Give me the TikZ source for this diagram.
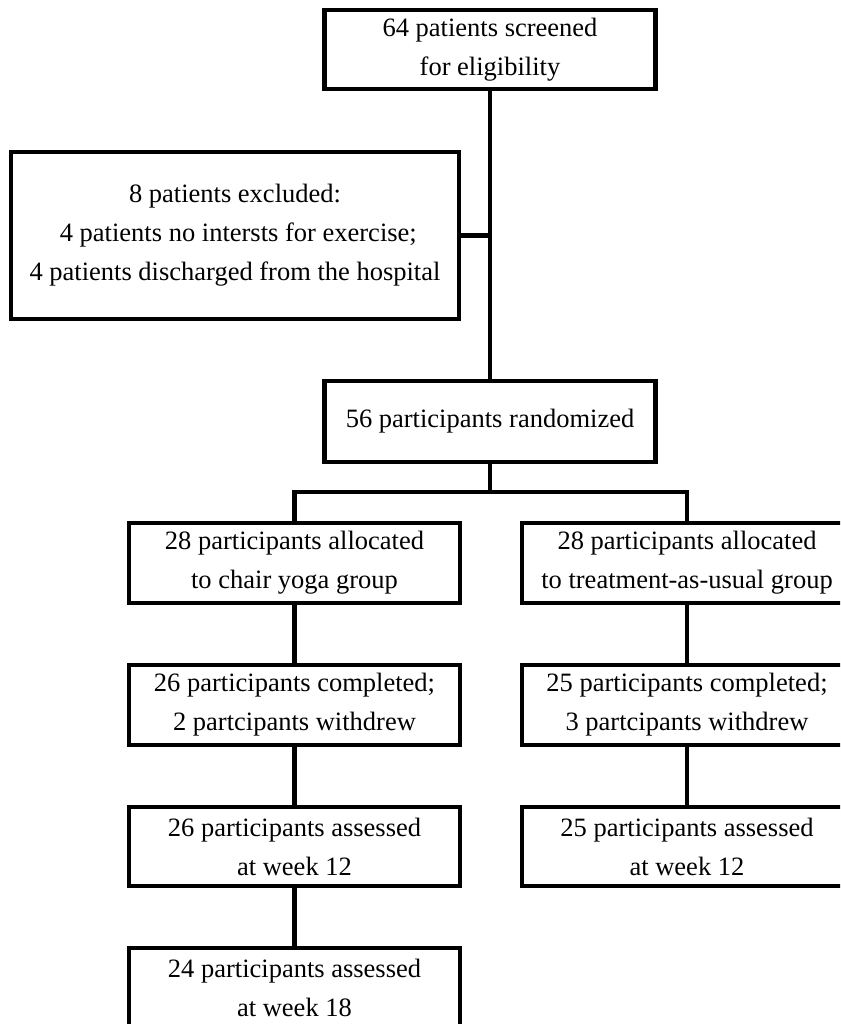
\documentclass[tikz,border=0pt]{standalone}
\usepackage{fontspec}
\setmainfont{Liberation Serif}
\begin{document}
\begin{tikzpicture}[x=1pt,y=-1pt,
  box/.style={draw=black,line width=4.5pt,fill=white,inner sep=0pt,align=center,
    minimum width=331pt,minimum height=80pt,
    font=\fontsize{26.5pt}{39pt}\selectfont},
  link/.style={draw=black,line width=4.5pt}]
\useasboundingbox (0,0) rectangle (840,1024);
\clip (0,0) rectangle (840,1024);
% nodes
\node[box,minimum height=79pt] (top) at (490,49.5) {64 patients screened\\for eligibility};
\node[box,minimum width=448pt,minimum height=167pt] (excl) at (235,235.5)
  {8 patients excluded:\\\ 4 patients no intersts for exercise;\\4 patients discharged from the hospital};
\node[box,minimum height=81pt] (rand) at (490,421.5) {56 participants randomized};
\node[box] (L1) at (294.5,563) {28 participants allocated\\to chair yoga group};
\node[box] (L2) at (294.5,705) {26 participants completed;\\2 partcipants withdrew};
\node[box,minimum height=79pt] (L3) at (294.5,846.5) {26 participants assessed\\at week 12};
\node[box] (L4) at (294.5,988) {24 participants assessed\\at week 18};
\node[box,minimum width=330pt] (R1) at (687,563) {28 participants allocated\\to treatment-as-usual group};
\node[box,minimum width=330pt] (R2) at (687,705) {25 participants completed;\\3 partcipants withdrew};
\node[box,minimum width=330pt,minimum height=79pt] (R3) at (687,846.5) {25 participants assessed\\at week 12};
% connectors
\coordinate (split) at (490,492);
\draw[link] (top.south) -- (rand.north);
\draw[link] (excl.east) -- (excl.east -| top.south);
\draw[link] (rand.south) -- (split);
\draw[link] (L1.north) |- (split) -| (R1.north);
\draw[link] (L1) -- (L2);
\draw[link] (L2) -- (L3);
\draw[link] (L3) -- (L4);
\draw[link] (R1) -- (R2);
\draw[link] (R2) -- (R3);
\end{tikzpicture}
\end{document}
